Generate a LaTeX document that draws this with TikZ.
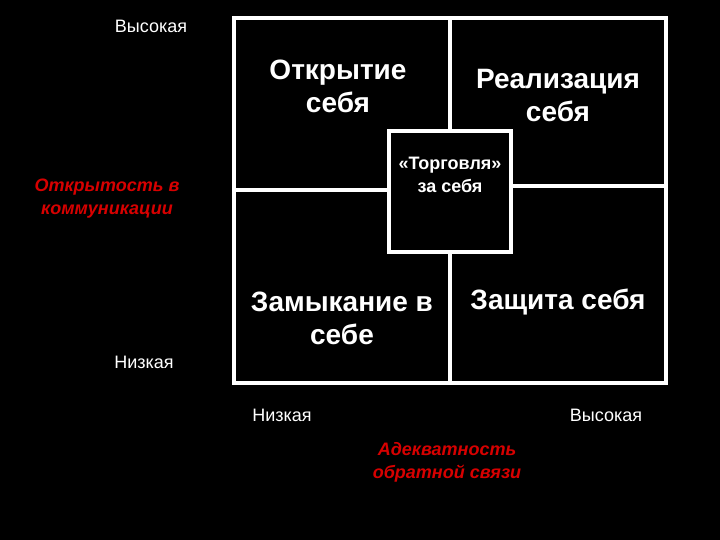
\documentclass[tikz,border=0pt]{standalone}
\usepackage{fontspec}
\setmainfont{Liberation Sans}
\definecolor{axisred}{RGB}{215,0,0}
\begin{document}
\begin{tikzpicture}[x=1pt,y=-1pt,
  box/.style={draw=white, line width=4pt},
  title/.style={white, font=\bfseries\fontsize{28}{33}\selectfont, align=center},
  level/.style={white, font=\fontsize{18}{20}\selectfont},
  axislabel/.style={axisred, font=\bfseries\itshape\fontsize{18}{23}\selectfont, align=center}]

\fill[black] (0,0) rectangle (720,540);
\useasboundingbox (0,0) rectangle (720,540);

\draw[box] (234,18) rectangle (450,190);
\draw[box] (450,18) rectangle (666,186);
\draw[box] (234,190) rectangle (450,383);
\draw[box] (450,186) rectangle (666,383);
\draw[box, fill=black] (389,131) rectangle (511,252);

\node[title] (open) at (338,86) {Открытие\\себя};
\node[title] (real) at (558,96) {Реализация\\себя};
\node[title] (close) at (342,318) {Замыкание в\\себе};
\node[title] (defend) at (558,302) {Защита себя};
\node[white, font=\bfseries\fontsize{18}{23}\selectfont, align=center] (trade) at (450,175) {«Торговля»\\за себя};

\node[level] (hileft) at (151,26) {Высокая};
\node[level] (loleft) at (144,362) {Низкая};
\node[level] (lobottom) at (282,415) {Низкая};
\node[level] (hibottom) at (606,415) {Высокая};

\node[axislabel] (openness) at (107,199) {Открытость в\\коммуникации};
\node[axislabel] (feedback) at (447,462) {Адекватность\\обратной связи};
\end{tikzpicture}
\end{document}
